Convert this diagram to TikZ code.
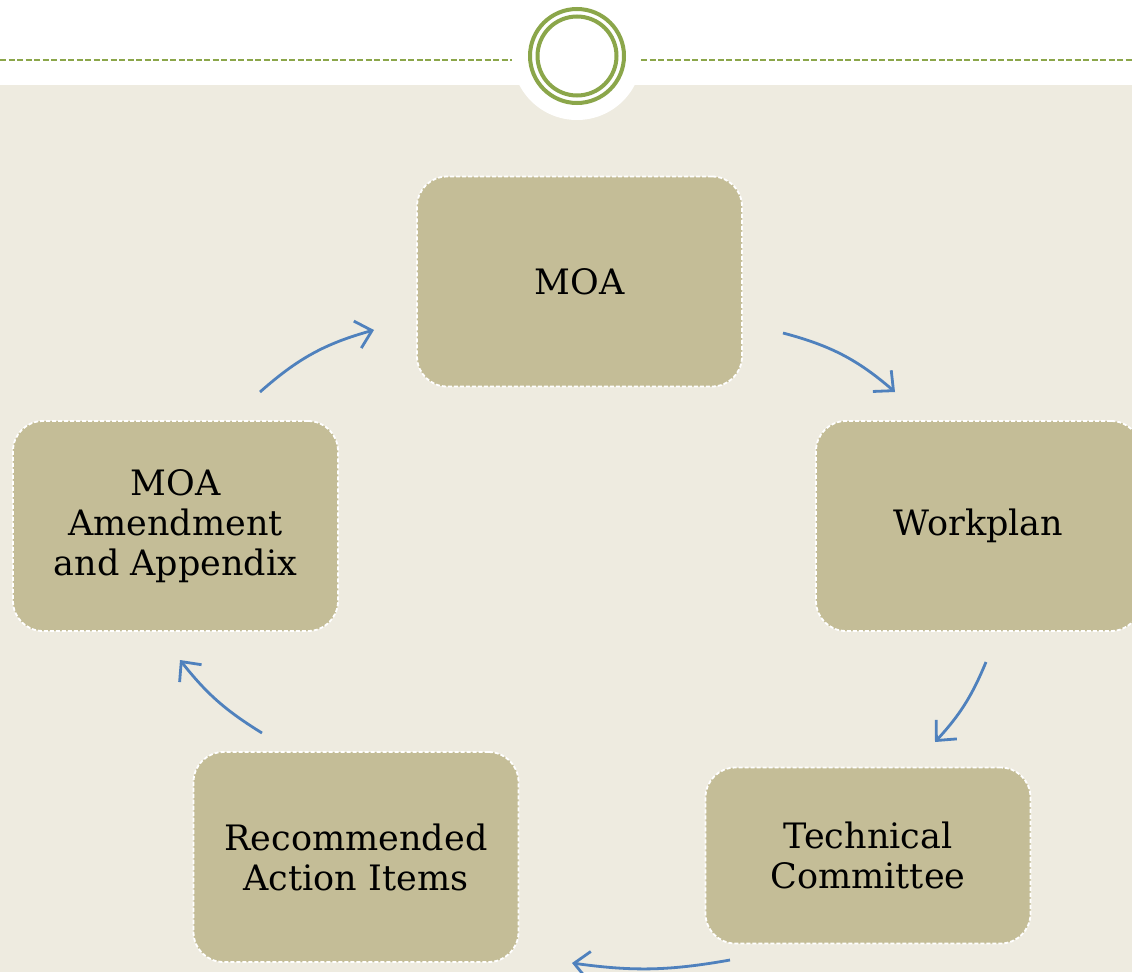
\documentclass[tikz,border=0pt]{standalone}
\usepackage{fontspec}
\setmainfont{DejaVu Serif}
\usetikzlibrary{arrows.meta}
\definecolor{bgbeige}{HTML}{EEEBE0}
\definecolor{boxtan}{HTML}{C4BD97}
\definecolor{leafgreen}{HTML}{8BA64A}
\definecolor{arrowblue}{HTML}{4F81BD}
\begin{document}
\begin{tikzpicture}[x=1pt,y=-1pt,
	box/.style={draw=white, fill=boxtan, line width=1.8pt, dash pattern=on 4pt off 2pt,
		rounded corners=30pt, minimum width=325pt, minimum height=210pt,
		align=center, inner sep=0pt, font=\fontsize{35}{40}\selectfont},
	cyc/.style={draw=arrowblue, line width=2.8pt, -{Straight Barb[length=15pt,width=28pt]}}]
	\useasboundingbox (0,0) rectangle (1132,972);
	\clip (0,0) rectangle (1132,972);

	% header band with the ring
	\fill[white] (0,0) rectangle (1132,85);
	\fill[bgbeige] (0,85) rectangle (1132,972);
	\fill[white] (577,55) circle (65pt);
	\draw[leafgreen, line width=2pt, dash pattern=on 6pt off 2.5pt] (0,60) -- (512,60);
	\draw[leafgreen, line width=2pt, dash pattern=on 6pt off 2.5pt] (641,60) -- (1132,60);
	\draw[leafgreen, line width=4pt] (577,56) circle (47pt);
	\draw[leafgreen, line width=4pt] (577,56) circle (39.5pt);

	\node[box] (moa) at (579.5,281.5) {MOA};
	\node[box] (work) at (978.5,526) {Workplan};
	\node[box, minimum height=176pt] (tech) at (868,855.5) {Technical\\Committee};
	\node[box] (rec) at (356,857) {Recommended\\Action Items};
	\node[box] (amend) at (175.5,526) {MOA\\Amendment\\and Appendix};

	\coordinate (a1) at (260,392);
	\coordinate (b1) at (374,330);
	\coordinate (a2) at (783,333);
	\coordinate (b2) at (895,392);
	\coordinate (a3) at (986,662);
	\coordinate (b3) at (935,742);
	\coordinate (a4) at (730,960);
	\coordinate (b4) at (572,963);
	\coordinate (a5) at (262,733);
	\coordinate (b5) at (180,660);

	\draw[cyc] (a1) to[bend left=13] (b1);
	\draw[cyc] (a2) to[bend left=13] (b2);
	\draw[cyc] (a3) to[bend left=10] (b3);
	\draw[cyc] (a4) to[bend left=9] (b4);
	\draw[cyc] (a5) to[bend left=10] (b5);
\end{tikzpicture}
\end{document}
